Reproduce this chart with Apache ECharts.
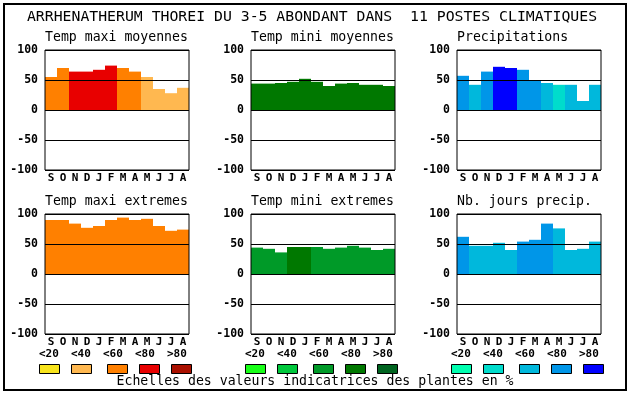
<!DOCTYPE html>
<html><head><meta charset="utf-8">
<script src="https://cdn.jsdelivr.net/npm/echarts@6/dist/echarts.min.js"></script>
<style>html,body{margin:0;padding:0;background:#fff}#c{width:630px;height:394px}</style>
</head><body><div id="c"></div>
<script>
const mainTitle = 'ARRHENATHERUM THOREI DU 3-5 ABONDANT DANS  11 POSTES CLIMATIQUES';
const footText = 'Echelles des valeurs indicatrices des plantes en %';
const months = ['S','O','N','D','J','F','M','A','M','J','J','A'];
const legendLabels = ['<20','<40','<60','<80','>80'];

const panelTitles = ['Temp maxi moyennes','Temp mini moyennes','Precipitations',
                     'Temp maxi extremes','Temp mini extremes','Nb. jours precip.'];

const tempMaxiMoy      = [55,70,64,64,67,74,70,64,55,35,28,37];
const tempMaxiMoyClass = [2,2,3,3,3,3,2,2,1,1,1,1];
const tempMiniMoy      = [44,44,45,47,52,47,40,44,45,42,42,40];
const tempMiniMoyClass = [3,3,3,3,3,3,3,3,3,3,3,3];
const precip           = [57,42,64,72,70,67,49,45,42,42,15,42];
const precipClass      = [3,2,3,4,4,3,3,2,1,2,2,2];
const tempMaxiExt      = [90,90,84,77,80,90,94,90,92,80,72,74];
const tempMaxiExtClass = [2,2,2,2,2,2,2,2,2,2,2,2];
const tempMiniExt      = [44,42,36,45,45,45,42,44,47,44,40,42];
const tempMiniExtClass = [2,2,2,3,3,2,2,2,2,2,2,2];
const nbJours          = [62,47,47,52,40,54,57,84,76,40,42,54];
const nbJoursClass     = [3,2,2,2,2,3,3,3,2,2,2,2];

const warmPalette  = ['#f8e41c','#ffb850','#ff8000','#e80000','#aa1000'];
const greenPalette = ['#18ff18','#00c83c','#009a28','#007800','#006420'];
const bluePalette  = ['#00ffb0','#00dccc','#00b8dc','#0096e8','#0000ff'];

const panels = [
  {vals: tempMaxiMoy, cls: tempMaxiMoyClass, pal: warmPalette},
  {vals: tempMiniMoy, cls: tempMiniMoyClass, pal: greenPalette},
  {vals: precip, cls: precipClass, pal: bluePalette},
  {vals: tempMaxiExt, cls: tempMaxiExtClass, pal: warmPalette},
  {vals: tempMiniExt, cls: tempMiniExtClass, pal: greenPalette},
  {vals: nbJours, cls: nbJoursClass, pal: bluePalette}
];

const lefts = [45, 251, 457];
const tops = [50, 214];
const mono = '"DejaVu Sans Mono", "Liberation Mono", monospace';

const grid = [], xAxis = [], yAxis = [], series = [], graphic = [];
panels.forEach((p, i) => {
  const col = i % 3, row = Math.floor(i / 3);
  grid.push({left: lefts[col], top: tops[row], width: 144, height: 120,
             show: true, borderColor: '#000', borderWidth: 1, z: 5, containLabel: false});
  xAxis.push({type: 'category', gridIndex: i, data: months, position: 'bottom',
    axisLine: {show: false}, axisTick: {show: false}, splitLine: {show: false},
    axisLabel: {interval: 0, margin: 3, color: '#000', fontFamily: mono, fontWeight: 'bold', fontSize: 11}});
  yAxis.push({type: 'value', gridIndex: i, min: -100, max: 100, interval: 50, z: 5,
    axisLine: {show: false}, axisTick: {show: false},
    splitLine: {show: true, lineStyle: {color: '#000', width: 1}},
    axisLabel: {margin: 7, color: '#000', fontFamily: mono, fontWeight: 'bold', fontSize: 11.5}});
  series.push({type: 'bar', xAxisIndex: i, yAxisIndex: i, barCategoryGap: 0, barGap: 0,
    animation: false, silent: true,
    data: p.vals.map((v, k) => ({value: v, itemStyle: {color: p.pal[p.cls[k]]}}))});
  graphic.push({type: 'text', left: null, x: lefts[col], y: tops[row] - 12,
    style: {text: panelTitles[i], font: '13.2px ' + mono, fill: '#000',
            align: 'left', verticalAlign: 'middle', textAlign: 'left', textVerticalAlign: 'middle'}});
});

// legends
const legendLabelX = [39, 71, 103, 135, 167];
const legendBoxX = [39, 71, 107, 139, 171];
const legendOffsets = [0, 206, 412];
const palettes = [warmPalette, greenPalette, bluePalette];
legendOffsets.forEach((off, j) => {
  legendLabels.forEach((lab, k) => {
    graphic.push({type: 'text', x: legendLabelX[k] + off, y: 354,
      style: {text: lab, font: 'bold 11px ' + mono, fill: '#000',
              align: 'left', verticalAlign: 'middle', textAlign: 'left', textVerticalAlign: 'middle'}});
    graphic.push({type: 'rect', shape: {x: legendBoxX[k] + off + 0.5, y: 364.5, width: 20, height: 9},
      style: {fill: palettes[j][k], stroke: '#000', lineWidth: 1}});
  });
});

graphic.push({type: 'text', x: 312, y: 17.5,
  style: {text: mainTitle, font: '14.8px ' + mono, fill: '#000',
          align: 'center', verticalAlign: 'middle', textAlign: 'center', textVerticalAlign: 'middle'}});
graphic.push({type: 'text', x: 315, y: 382,
  style: {text: footText, font: '13.2px ' + mono, fill: '#000',
          align: 'center', verticalAlign: 'middle', textAlign: 'center', textVerticalAlign: 'middle'}});
graphic.push({type: 'rect', shape: {x: 4, y: 4, width: 622, height: 386},
  style: {fill: 'none', stroke: '#000', lineWidth: 2}});

const chart = echarts.init(document.getElementById('c'), null, {renderer: 'canvas'});
chart.setOption({animation: false, backgroundColor: '#fff', grid, xAxis, yAxis, series, graphic});
</script></body></html>
